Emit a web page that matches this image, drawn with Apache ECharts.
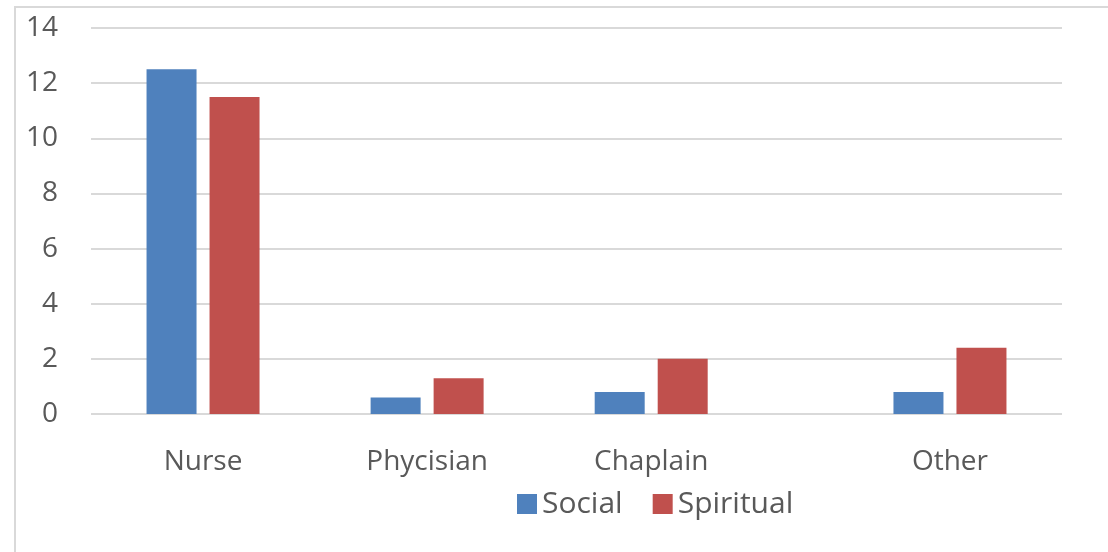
<!DOCTYPE html>
<html>
<head>
<meta charset="utf-8">
<script src="https://cdn.jsdelivr.net/npm/echarts@6/dist/echarts.min.js"></script>
<style>
    html,body{margin:0;padding:0;background:#fff;}
    #bar_form{width:1108px;height:552px;}
</style>
</head>
<body>
<div id="bar_form"></div>
<script>
let categories = ['Nurse','Phycisian','Chaplain','Other'];
let social = [12.5, 0.6, 0.8, 0.8];
let spiritual = [11.5, 1.3, 2.0, 2.4];

// the original spaces the groups unevenly, so each group sits in its own slot
let slots = [1, 4, 7, 11];
let slotCount = 13;

let xData = [];
let socialData = [];
let spiritualData = [];
for(let i=0;i<slotCount;i++){
    xData.push('');
    socialData.push(null);
    spiritualData.push(null);
}
for(let j=0;j<categories.length;j++){
    xData[slots[j]] = categories[j];
    socialData[slots[j]] = social[j];
    spiritualData[slots[j]] = spiritual[j];
}

echarts.init(document.getElementById('bar_form')).setOption({
    animation:false,
    textStyle:{
        fontFamily:'Open Sans'
    },
    graphic:[{
        type:'rect',
        shape:{x:15,y:7,width:1120,height:570},
        style:{fill:'none',stroke:'#d9d9d9',lineWidth:2}
    }],
    legend: {
        left:'512',
        top:'484',
        itemWidth:20,
        itemHeight:20,
        itemGap:30,
        icon:'rect',
        textStyle:{
            color:'#595959',
            fontSize:30
        },
        data:['Social','Spiritual']
    },
    grid: {
        left: 91,
        right: 46,
        top: 28,
        bottom: 138
    },
    xAxis: {
        type: 'category',
        data: xData,
        axisLine:{show:false},
        axisTick:{show:false},
        axisLabel:{
            interval:0,
            margin:34,
            color:'#595959',
            fontSize:28
        }
    },
    yAxis: {
        type: 'value',
        min: 0,
        max: 14,
        interval: 2,
        axisLine:{show:false},
        axisTick:{show:false},
        axisLabel:{
            margin:33,
            color:'#595959',
            fontSize:28
        },
        splitLine:{
            lineStyle:{color:'#d9d9d9',width:2}
        }
    },
    series: [
        {
            name:'Social',
            type:'bar',
            color:'#4f81bd',
            barWidth:50,
            barGap:'26%',
            data:socialData
        },
        {
            name:'Spiritual',
            type:'bar',
            color:'#c0504d',
            barWidth:50,
            data:spiritualData
        }
    ]
});
</script>
</body>
</html>
